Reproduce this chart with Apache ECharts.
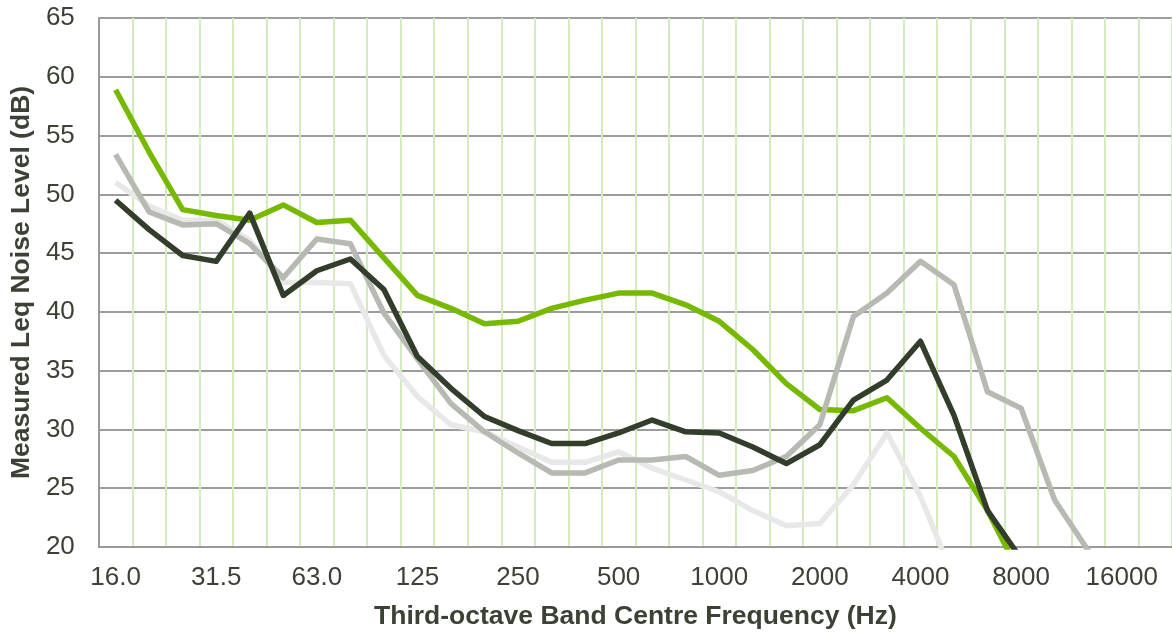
<!DOCTYPE html>
<html>
<head>
<meta charset="utf-8">
<script src="https://cdn.jsdelivr.net/npm/echarts@6/dist/echarts.min.js"></script>
<style>
  html, body { margin: 0; padding: 0; background: #fff; }
  #chart { width: 1172px; height: 639px; }
</style>
</head>
<body>
<div id="chart"></div>
<script>
// third-octave band centres (Hz)
var bands = ['16.0', '20.0', '25.0', '31.5', '40.0', '50.0', '63.0', '80.0', '100', '125',
  '160', '200', '250', '315', '400', '500', '630', '800', '1000', '1250',
  '1600', '2000', '2500', '3150', '4000', '5000', '6300', '8000', '10000', '12500',
  '16000', '20000'];

// measured Leq per band (dB)
var greenLevels = [58.9, 53.6, 48.7, 48.2, 47.8, 49.1, 47.6, 47.8, 44.6, 41.4,
  40.3, 39.0, 39.2, 40.3, 41.0, 41.6, 41.6, 40.6, 39.2, 36.8,
  33.9, 31.7, 31.6, 32.7, 30.1, 27.7, 23.1, 17.5, 15.0, 13.0,
  12.0, 11.0];
var darkLevels = [49.5, 47.0, 44.8, 44.3, 48.4, 41.4, 43.5, 44.5, 41.9, 36.2,
  33.5, 31.1, 29.9, 28.8, 28.8, 29.7, 30.8, 29.8, 29.7, 28.5,
  27.1, 28.7, 32.5, 34.2, 37.5, 31.2, 23.1, 19.0, 16.0, 14.0,
  13.0, 12.0];
var greyLevels = [53.4, 48.5, 47.4, 47.5, 45.8, 42.9, 46.2, 45.8, 39.9, 36.0,
  32.2, 29.8, 28.0, 26.3, 26.3, 27.4, 27.4, 27.7, 26.1, 26.5,
  27.7, 30.4, 39.6, 41.6, 44.3, 42.3, 33.2, 31.8, 24.0, 19.7,
  16.0, 14.0];
var lightLevels = [51.0, 49.0, 47.8, 47.8, 46.1, 42.5, 42.5, 42.4, 36.3, 32.8,
  30.4, 29.8, 28.5, 27.2, 27.2, 28.1, 26.7, 25.7, 24.7, 23.1,
  21.8, 22.0, 25.3, 29.7, 24.3, 17.3, 15.0, 13.0, 12.0, 11.0,
  10.0, 9.0];

var textColor = '#3b4134';
var font = '"Liberation Sans", Arial, sans-serif';

var chart = echarts.init(document.getElementById('chart'));

function lineSeries(name, data, color) {
  return {
    type: 'line',
    name: name,
    data: data,
    symbol: 'none',
    clip: true,
    lineStyle: { color: color, width: 5.5, join: 'round' }
  };
}

var options = {
  animation: false,
  grid: { left: 97, right: 0, top: 18, bottom: 92 },
  xAxis: {
    type: 'category',
    data: bands,
    boundaryGap: true,
    name: 'Third-octave Band Centre Frequency (Hz)',
    nameLocation: 'middle',
    nameGap: 56,
    nameTextStyle: { color: textColor, fontFamily: font, fontWeight: 'bold', fontSize: 26.5 },
    axisLine: { lineStyle: { color: '#999', width: 2 } },
    axisTick: { show: false },
    axisLabel: { interval: 2, color: textColor, fontFamily: font, fontSize: 26, margin: 18 },
    splitLine: { show: true, interval: 0, lineStyle: { color: '#d4ebc0', width: 2 } }
  },
  yAxis: {
    type: 'value',
    min: 20,
    max: 65,
    interval: 5,
    name: 'Measured Leq Noise Level (dB)',
    nameLocation: 'middle',
    nameGap: 60,
    nameTextStyle: { color: textColor, fontFamily: font, fontWeight: 'bold', fontSize: 26.5 },
    axisLine: { show: true, lineStyle: { color: '#999', width: 2 } },
    axisTick: { show: false },
    axisLabel: { color: textColor, fontFamily: font, fontSize: 26, margin: 24 },
    splitLine: { show: true, lineStyle: { color: '#9c9c9c', width: 2 } }
  },
  series: [
    lineSeries('Light', lightLevels, '#e8e8e8'),
    lineSeries('Green', greenLevels, '#76b900'),
    lineSeries('Grey', greyLevels, '#b6bab2'),
    lineSeries('Dark', darkLevels, '#333d2b')
  ]
};

chart.setOption(options);
</script>
</body>
</html>
